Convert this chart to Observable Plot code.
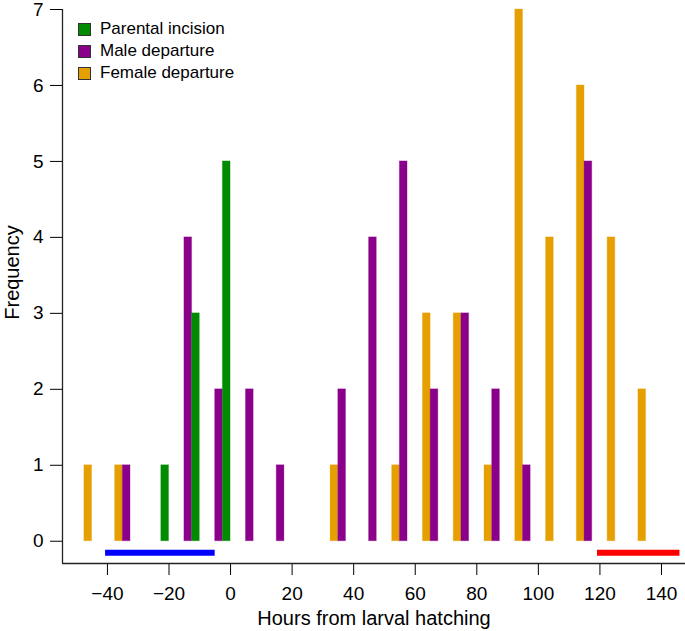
<!DOCTYPE html>
<html>
<head>
<meta charset="utf-8">
<script src="https://cdn.jsdelivr.net/npm/d3@7"></script>
<script src="https://cdn.jsdelivr.net/npm/@observablehq/plot@0.6"></script>
<style>
  body { margin: 0; background: #fff; font-family: "Liberation Sans", Arial, Helvetica, sans-serif; }
  #wrap { position: relative; width: 685px; height: 631px; }
  #legend { position: absolute; left: 78px; top: 18px; font-size: 17px; color: #000; }
  #legend .row { display: flex; align-items: center; height: 22px; }
  #legend .sw { width: 13px; height: 13px; box-sizing: border-box; border: 1px solid #333; margin-right: 9px; }
</style>
</head>
<body>
<div id="wrap"><div id="legend"></div></div>
<script>
// Bin starts (hours from larval hatching), 10-hour bins
const bins = [-50, -40, -30, -20, -10, 0, 10, 20, 30, 40, 50, 60, 70, 80, 90, 100, 110, 120, 130];
// Frequencies per bin
const female   = [1, 1, 0, 0, 0, 0, 0, 0, 1, 0, 1, 3, 3, 1, 7, 4, 6, 4, 2];
const male     = [0, 1, 0, 4, 2, 2, 1, 0, 2, 4, 5, 2, 3, 2, 1, 0, 5, 0, 0];
const parental = [0, 0, 1, 3, 5, 0, 0, 0, 0, 0, 0, 0, 0, 0, 0, 0, 0, 0, 0];

const seriesNames = ["Female departure", "Male departure", "Parental incision"];
const seriesValues = [female, male, parental];
const seriesColors = ["#E69F00", "#8B008B", "#008B00"];
const legendOrder = ["Parental incision", "Male departure", "Female departure"];

// Period bars below the axis (hours)
const bluePeriod = [-40.6, -5];
const redPeriod = [119.2, 146];

const yTicks = [0, 1, 2, 3, 4, 5, 6, 7];
const xTicks = [-40, -20, 0, 20, 40, 60, 80, 100, 120, 140];

// Build rows: within each bin, one bar-width gap then the three series side by side
const barW = 2.5;
const rows = [];
bins.forEach((b, i) => {
  seriesNames.forEach((s, k) => {
    rows.push({ series: s, x1: b + barW * (k + 1), x2: b + barW * (k + 2), count: seriesValues[k][i] });
  });
});

const periods = [
  { x1: bluePeriod[0], x2: bluePeriod[1], c: "#0000FF" },
  { x1: redPeriod[0], x2: redPeriod[1], c: "#FF0000" }
];

const chart = Plot.plot({
  width: 685,
  height: 631,
  marginLeft: 62,
  marginRight: 0,
  marginTop: 9,
  marginBottom: 68,
  style: { fontFamily: '"Liberation Sans", Arial, Helvetica, sans-serif', fontSize: "19px", background: "#fff", color: "#000" },
  x: { domain: [-54.6, 147.8] },
  y: { domain: [-0.293, 7] },
  color: { domain: seriesNames, range: seriesColors },
  marks: [
    Plot.rect(rows, {
      x1: "x1", x2: "x2", y1: 0, y2: "count",
      fill: "series", stroke: "series", strokeOpacity: 0.3, strokeWidth: 1
    }),
    Plot.ruleY(periods, { y: -0.15, x1: "x1", x2: "x2", stroke: "c", strokeWidth: 6 }),
    Plot.axisY({ ticks: yTicks, tickSize: 12, tickPadding: 7, fontSize: 19, label: null, tickFormat: d3.format("d") }),
    Plot.axisX({ ticks: xTicks, tickSize: 12, tickPadding: 11, fontSize: 19, label: null }),
    Plot.ruleX([-54.6], { y1: -0.293, y2: 7, stroke: "#222", strokeWidth: 1.3 }),
    Plot.ruleY([-0.293], { x1: -54.6, x2: 147.8, stroke: "#222", strokeWidth: 1.3 }),
    Plot.text(["Hours from larval hatching"], { frameAnchor: "bottom", textAnchor: "middle", lineAnchor: "middle", dy: 55, fontSize: 20, text: d => d }),
    Plot.text(["Frequency"], { frameAnchor: "left", textAnchor: "middle", lineAnchor: "middle", rotate: -90, dx: -50, dy: -14, fontSize: 20, text: d => d })
  ]
});

const wrap = document.getElementById("wrap");
wrap.insertBefore(chart, wrap.firstChild);

const legend = document.getElementById("legend");
legendOrder.forEach(name => {
  const row = document.createElement("div");
  row.className = "row";
  const sw = document.createElement("span");
  sw.className = "sw";
  sw.style.background = seriesColors[seriesNames.indexOf(name)];
  const t = document.createElement("span");
  t.textContent = name;
  row.appendChild(sw);
  row.appendChild(t);
  legend.appendChild(row);
});
</script>
</body>
</html>
